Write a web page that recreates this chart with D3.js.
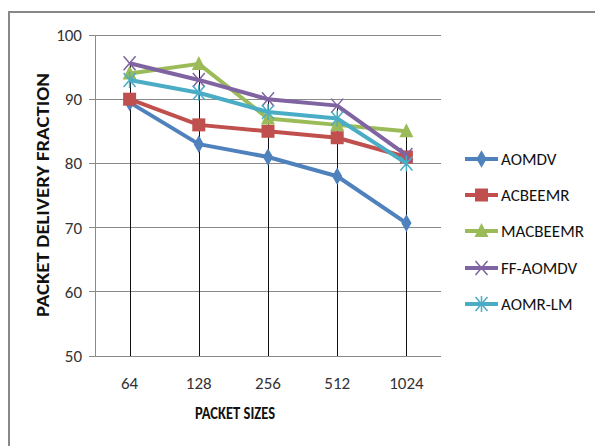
<!DOCTYPE html>
<html><head><meta charset="utf-8">
<script src="https://cdn.jsdelivr.net/npm/d3@7"></script>
<style>
body{margin:0;background:#fff;}
text{font-family:Carlito,"Liberation Sans Narrow","Liberation Sans",Arial,sans-serif;}
</style></head>
<body><svg id="c" width="595" height="446"></svg>
<script>
const categories = ["64","128","256","512","1024"];
const seriesNames = ["AOMDV","ACBEEMR","MACBEEMR","FF-AOMDV","AOMR-LM"];
const aomdv    = [89.5, 83, 81, 78, 70.7];
const acbeemr  = [90, 86, 85, 84, 81];
const macbeemr = [94, 95.5, 87, 86, 85];
const ffaomdv  = [95.6, 93, 90, 89, 81.3];
const aomrlm   = [93, 91, 88, 87, 80];
const yTicks = [50,60,70,80,90,100];
const colors = ["#4F81BD","#C0504D","#9BBB59","#8064A2","#4BACC6"];
const symbols = ["diamond","square","triangle","x","star"];
const allSeries = [aomdv, acbeemr, macbeemr, ffaomdv, aomrlm];

const svg = d3.select("#c");
svg.append("rect").attr("x",9).attr("y",12).attr("width",600).attr("height",450)
  .attr("fill","none").attr("stroke","#888").attr("stroke-width",2);

const x = d3.scalePoint().domain(categories).range([95,441]).padding(0.5);
const y = d3.scaleLinear().domain([50,100]).range([356,35]);

// gridlines
svg.append("g").selectAll("line").data(yTicks).join("line")
  .attr("x1",89).attr("x2",441).attr("y1",d=>y(d)).attr("y2",d=>y(d))
  .attr("stroke","#8a8a8a").attr("stroke-width",1).attr("shape-rendering","crispEdges");
// left axis
svg.append("line").attr("x1",95).attr("x2",95).attr("y1",y(100)).attr("y2",y(50))
  .attr("stroke","#8a8a8a").attr("shape-rendering","crispEdges");
// y tick labels
svg.append("g").selectAll("text").data(yTicks).join("text")
  .attr("x",82).attr("y",d=>y(d)).attr("dy","0.35em").attr("text-anchor","end")
  .attr("font-size",17).attr("fill","#333").text(d=>d);

// drop lines
categories.forEach((c,i)=>{
  const mx = d3.max(allSeries, s=>s[i]);
  svg.append("line").attr("x1",Math.round(x(c))+0.5).attr("x2",Math.round(x(c))+0.5)
    .attr("y1",y(mx)).attr("y2",y(50)).attr("stroke","#111").attr("stroke-width",1);
});

// x tick labels
svg.append("g").selectAll("text").data(categories).join("text")
  .attr("x",d=>x(d)).attr("y",383).attr("dy","0.35em").attr("text-anchor","middle")
  .attr("font-size",17).attr("fill","#333").text(d=>d);

// titles
svg.append("text").attr("x",235).attr("y",413).attr("dy","0.35em").attr("text-anchor","middle")
  .attr("font-size",17.5).attr("font-weight","bold").attr("fill","#111")
  .attr("textLength",80).attr("lengthAdjust","spacingAndGlyphs").text("PACKET SIZES");
svg.append("text").attr("transform","translate(42,195) rotate(-90)").attr("dy","0.35em")
  .attr("text-anchor","middle").attr("font-size",19).attr("font-weight","bold").attr("fill","#111")
  .attr("textLength",244).attr("lengthAdjust","spacingAndGlyphs")
  .text("PACKET DELIVERY FRACTION");

function marker(g, type, cx, cy, color){
  if(type==="diamond"){
    g.append("path").attr("d",d3.symbol(d3.symbolDiamond,90)()).attr("transform",`translate(${cx},${cy})`).attr("fill",color);
  } else if(type==="square"){
    g.append("rect").attr("x",cx-6.5).attr("y",cy-6.5).attr("width",13).attr("height",13).attr("fill",color);
  } else if(type==="triangle"){
    g.append("path").attr("d",`M${cx},${cy-8}L${cx+7},${cy+6}L${cx-7},${cy+6}Z`).attr("fill",color);
  } else if(type==="x"){
    g.append("path").attr("d",`M${cx-6},${cy-7}L${cx+6},${cy+7}M${cx+6},${cy-7}L${cx-6},${cy+7}`)
      .attr("stroke",color).attr("stroke-width",1.5).attr("fill","none");
  } else if(type==="star"){
    g.append("path").attr("d",`M${cx-6},${cy-7}L${cx+6},${cy+7}M${cx+6},${cy-7}L${cx-6},${cy+7}M${cx},${cy-8}L${cx},${cy+8}`)
      .attr("stroke",color).attr("stroke-width",1.5).attr("fill","none");
  }
}

const line = d3.line().x((d,i)=>x(categories[i])).y(d=>y(d));
allSeries.forEach((s,k)=>{
  const g = svg.append("g");
  g.append("path").datum(s).attr("d",line).attr("fill","none")
    .attr("stroke",colors[k]).attr("stroke-width",4).attr("stroke-linejoin","round");
  s.forEach((v,i)=>marker(g, symbols[k], x(categories[i]), y(v), colors[k]));
});

// legend
const ly = [159,195,231,268,304];
seriesNames.forEach((n,k)=>{
  const g = svg.append("g");
  g.append("line").attr("x1",465).attr("x2",498).attr("y1",ly[k]).attr("y2",ly[k])
    .attr("stroke",colors[k]).attr("stroke-width",4);
  marker(g, symbols[k], 481.5, ly[k], colors[k]);
  g.append("text").attr("x",501).attr("y",ly[k]).attr("dy","0.35em").attr("font-size",17)
    .attr("fill","#111").text(n);
});
</script></body></html>
